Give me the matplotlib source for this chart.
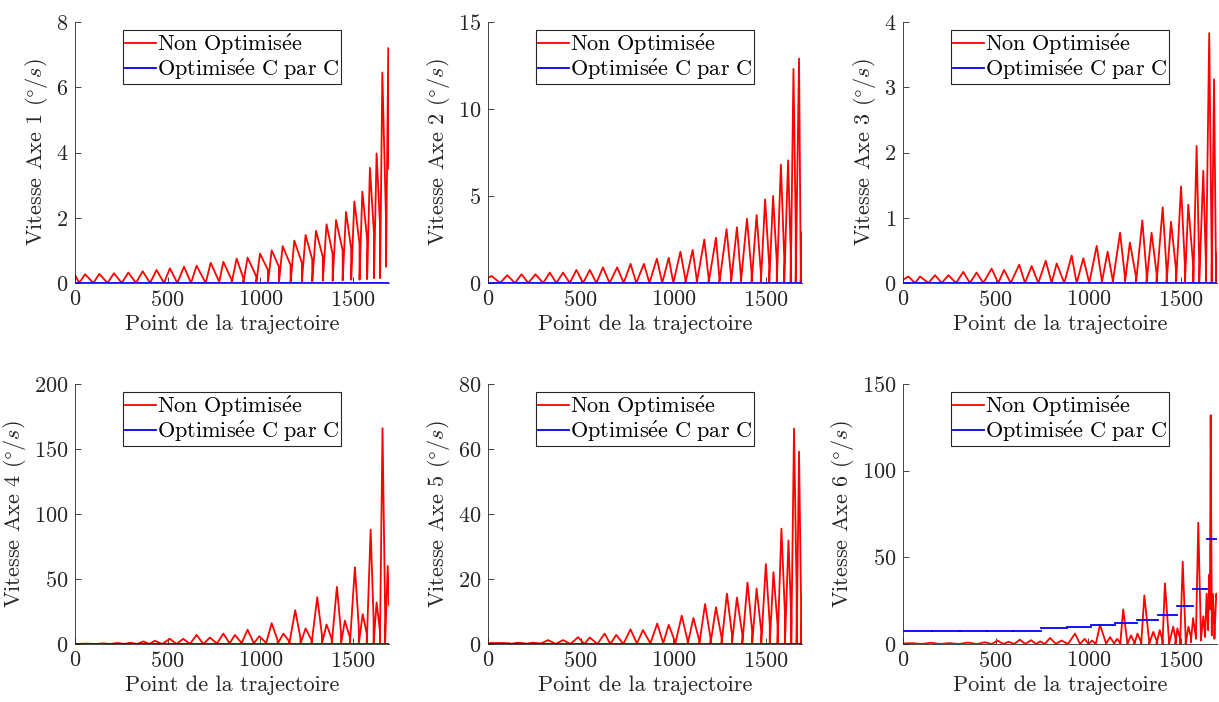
import matplotlib
matplotlib.use("Agg")
import matplotlib.pyplot as plt

plt.rcParams['font.family'] = ['cmr10', 'DejaVu Serif']
plt.rcParams['mathtext.fontset'] = 'cm'
plt.rcParams['axes.formatter.use_mathtext'] = True
plt.rcParams['axes.unicode_minus'] = False

# ---- data (x = point index, y = speed in deg/s) ----
# each curve is a chain of arches: trough x/y, peak x/y, tail y (value just before next trough)
ax1_tx = [0, 23, 99, 176, 252, 329, 405, 480, 552, 626, 705, 777, 845, 908, 978, 1041, 1100,
          1163, 1224, 1280, 1337, 1390, 1444, 1490, 1535, 1576, 1613, 1646, 1678, 1694]
ax1_ty = [0.25, 0, 0, 0, 0, 0, 0, 0, 0, 0, 0, 0, 0, 0, 0, 0, 0, 0, 0.05, 0.05, 0.07, 0.07,
          0.08, 0.1, 0.1, 0.12, 0.15, 0.15, 0.5, 3.5]
ax1_px = [0, 54, 131, 210, 288, 365, 440, 512, 588, 656, 732, 800, 872, 931, 998, 1061, 1120,
          1183, 1244, 1300, 1357, 1408, 1462, 1507, 1550, 1591, 1627, 1658, 1690]
ax1_py = [0.25, 0.27, 0.28, 0.30, 0.32, 0.36, 0.40, 0.45, 0.50, 0.53, 0.62, 0.65, 0.75, 0.78,
          0.90, 1.0, 1.13, 1.3, 1.47, 1.6, 1.8, 1.93, 2.18, 2.5, 2.8, 3.53, 3.97, 6.45, 7.2]
ax1_tail = [0, 0, 0, 0, 0, 0, 0, 0, 0, 0, 0.05, 0.1, 0.15, 0.2, 0.4, 0.5, 0.55, 0.62, 0.72,
            0.8, 0.88, 1.0, 1.05, 1.2, 1.35, 1.5, 1.7, 1.9, 3.5]

ax2_tx = [0, 65, 145, 217, 298, 369, 441, 513, 585, 656, 732, 800, 871, 940, 1000, 1065, 1126,
          1190, 1248, 1311, 1364, 1422, 1472, 1517, 1558, 1598, 1633, 1660, 1687, 1694]
ax2_ty = [0.3] + [0] * 28 + [2.9]
ax2_px = [20, 104, 181, 256, 333, 405, 477, 549, 620, 697, 769, 841, 911, 975, 1038, 1104, 1167,
          1230, 1287, 1343, 1397, 1449, 1495, 1538, 1580, 1619, 1648, 1678, 1694]
ax2_py = [0.4, 0.45, 0.5, 0.5, 0.6, 0.6, 0.75, 0.75, 0.9, 0.9, 1.1, 1.1, 1.4, 1.45, 1.8, 1.9,
          2.5, 2.6, 3.1, 3.2, 3.7, 3.9, 4.8, 5.0, 6.8, 7.05, 12.3, 12.9, 2.9]
ax2_tail = [0] * 14 + [0.2, 0.2, 0.3, 0.3, 0.4, 0.4, 0.6, 0.6, 1.0, 1.2, 1.5, 1.8, 3.3, 1.0, 2.9]

ax3_tx = [0, 65, 137, 209, 286, 361, 433, 514, 581, 658, 730, 802, 870, 937, 1005, 1072, 1131,
          1197, 1257, 1314, 1368, 1422, 1473, 1521, 1566, 1598, 1634, 1665, 1688, 1694]
ax3_ty = [0.05] + [0] * 28 + [0.45]
ax3_px = [29, 92, 173, 245, 325, 397, 478, 545, 627, 694, 770, 829, 910, 973, 1045, 1104, 1171,
          1224, 1291, 1341, 1401, 1446, 1500, 1539, 1584, 1620, 1652, 1678, 1691]
ax3_py = [0.1, 0.1, 0.12, 0.12, 0.17, 0.16, 0.22, 0.2, 0.28, 0.26, 0.34, 0.3, 0.42, 0.38, 0.57,
          0.48, 0.77, 0.62, 0.96, 0.77, 1.16, 0.94, 1.48, 1.2, 2.1, 1.72, 3.83, 3.12, 0.45]
ax3_tail = [0] * 14 + [0.05, 0.05, 0.1, 0.1, 0.15, 0.15, 0.2, 0.2, 0.25, 0.25, 0.3, 0.3, 0.5,
                       0.3, 0.45]

ax4_tx = [0, 120, 190, 265, 335, 400, 470, 548, 620, 692, 764, 832, 897, 962, 1030, 1093, 1156,
          1216, 1276, 1332, 1385, 1435, 1483, 1531, 1574, 1611, 1645, 1673, 1694]
ax4_ty = [0] * 28 + [30]
ax4_px = [60, 150, 230, 300, 369, 431, 512, 584, 656, 728, 800, 863, 931, 994, 1061, 1124, 1188,
          1244, 1307, 1357, 1413, 1456, 1510, 1552, 1595, 1627, 1659, 1687]
ax4_py = [0.3, 0.5, 0.8, 1.0, 2, 2.5, 4, 4, 7, 5, 8, 7, 11, 6, 16, 8, 26, 12, 36, 15, 44, 18,
          59, 23, 88, 32, 166, 60]
ax4_tail = [0, 0, 0, 0, 0, 0, 0, 0, 0, 0.5, 1, 1, 1.5, 1, 3, 2, 5, 3, 7, 4, 9, 5, 13, 8, 18,
            10, 25, 30]

ax5_tx = [0, 120, 200, 280, 365, 445, 520, 590, 660, 730, 802, 875, 944, 1010, 1077, 1140, 1200,
          1260, 1316, 1372, 1425, 1474, 1520, 1562, 1602, 1636, 1665, 1690, 1694]
ax5_ty = [0.3] + [0] * 27 + [14.5]
ax5_px = [80, 160, 240, 325, 405, 486, 549, 629, 692, 769, 836, 913, 975, 1045, 1108, 1171, 1230,
          1289, 1343, 1400, 1449, 1499, 1540, 1583, 1621, 1651, 1678, 1694]
ax5_py = [0.3, 0.4, 0.4, 1.2, 1.2, 2.1, 2.0, 3.2, 2.8, 4.5, 4.3, 6.3, 5.9, 8.7, 8.0, 12.3, 11.3,
          15.5, 14.3, 18.9, 17.1, 24.6, 22.1, 35.5, 31.9, 66.3, 59.2, 14.5]
ax5_tail = [0.2, 0.2, 0.2, 0, 0, 0, 0, 0, 0, 0.3, 0.3, 0.5, 0.5, 1, 1, 2, 2, 3, 3, 4, 4, 6, 6,
            9, 8, 16, 8, 14.5]

ax6_tx = [0, 100, 200, 300, 400, 480, 540, 600, 660, 720, 765, 825, 890, 955, 1000, 1040, 1095,
          1138, 1172, 1210, 1248, 1285, 1328, 1368, 1400, 1435, 1470, 1495, 1525, 1553, 1580,
          1607, 1630, 1646, 1656, 1666, 1680, 1694]
ax6_ty = [0.3] + [0] * 28 + [1, 3, 2, 5, 10, 28, 5, 3, 26]
ax6_px = [50, 150, 250, 350, 440, 510, 570, 630, 690, 740, 793, 855, 928, 980, 1020, 1063, 1117,
          1155, 1188, 1230, 1265, 1302, 1350, 1385, 1413, 1458, 1480, 1509, 1540, 1565, 1593,
          1620, 1638, 1652, 1660, 1672, 1690]
ax6_py = [0.5, 0.7, 0.5, 0.8, 1, 2, 1.3, 2.5, 2.2, 1.5, 3.5, 2, 6, 3, 2, 11, 4, 3, 20, 5, 6, 28,
          7, 8, 35, 10, 9, 47.5, 10, 15, 70, 16, 29, 40, 132, 29, 29]
ax6_tail = [0] * 15 + [0.5, 0.5, 0.5, 1, 1, 1, 1.5, 2, 2, 2, 3, 3, 3, 4, 4, 5, 4, 8, 20, 10, 6, 26]

# optimised curves: zero for axes 1-5, piecewise constant for axis 6
opt_x = [0, 1694]
opt_y = [0, 0]
ax6_opt_edges = [0, 155, 308, 452, 595, 744, 883, 1012, 1143, 1264, 1377, 1476, 1566, 1638, 1694]
ax6_opt_vals = [7.7, 7.7, 7.7, 7.7, 7.7, 9.0, 10.0, 10.8, 11.9, 14.1, 17.0, 22.0, 31.8, 60.7]

y_limits = [8, 15, 4, 200, 80, 150]
y_ticks = [[0, 2, 4, 6, 8], [0, 5, 10, 15], [0, 1, 2, 3, 4],
           [0, 50, 100, 150, 200], [0, 20, 40, 60, 80], [0, 50, 100, 150]]
x_ticks = [0, 500, 1000, 1500]


def arch_path(tx, ty, px, py, tail):
    xs, ys = [], []
    for i in range(len(px)):
        xs += [tx[i], px[i], tx[i + 1]]
        ys += [ty[i], py[i], tail[i]]
    xs.append(tx[-1])
    ys.append(ty[-1])
    return xs, ys


def step_segments(edges, vals):
    xs, ys = [], []
    for i in range(len(vals)):
        xs += [edges[i], edges[i + 1], float('nan')]
        ys += [vals[i], vals[i], float('nan')]
    return xs, ys


red_data = [
    (ax1_tx, ax1_ty, ax1_px, ax1_py, ax1_tail),
    (ax2_tx, ax2_ty, ax2_px, ax2_py, ax2_tail),
    (ax3_tx, ax3_ty, ax3_px, ax3_py, ax3_tail),
    (ax4_tx, ax4_ty, ax4_px, ax4_py, ax4_tail),
    (ax5_tx, ax5_ty, ax5_px, ax5_py, ax5_tail),
    (ax6_tx, ax6_ty, ax6_px, ax6_py, ax6_tail),
]

fig = plt.figure(figsize=(12.19, 7.02), dpi=100)

W, H = 1219.0, 702.0
lefts = [75, 488, 903]
width = 314
rows = [(22, 283), (384, 644)]
dark = '#262626'
fs = 16

for k in range(6):
    r, c = divmod(k, 3)
    top, bottom = rows[r]
    ax = fig.add_axes([lefts[c] / W, 1 - bottom / H, width / W, (bottom - top) / H])

    xs, ys = arch_path(*red_data[k])
    ax.plot(xs, ys, color='#ff0000', lw=1.3, label=r'$\mathrm{Non\ Optimis\acute{e}e}$')
    if k == 5:
        bx, by = step_segments(ax6_opt_edges, ax6_opt_vals)
    else:
        bx, by = opt_x, opt_y
    ax.plot(bx, by, color='#0000ff', lw=1.3, label=r'$\mathrm{Optimis\acute{e}e\ C\ par\ C}$')

    ax.set_xlim(0, 1694)
    ax.set_ylim(0, y_limits[k])
    ax.set_xticks(x_ticks)
    ax.set_yticks(y_ticks[k])
    ax.tick_params(direction='in', length=4, width=0.6, colors=dark, labelsize=fs, pad=5)
    for side in ['top', 'right']:
        ax.spines[side].set_visible(False)
    for side in ['left', 'bottom']:
        ax.spines[side].set_color(dark)
        ax.spines[side].set_linewidth(0.6)

    ax.set_xlabel('Point de la trajectoire', fontsize=fs, color=dark, labelpad=3)
    ax.set_ylabel(r'Vitesse Axe %d $(\degree/s)$' % (k + 1), fontsize=fs, color=dark,
                  labelpad=4)

    leg = ax.legend(loc='upper center', fontsize=fs, fancybox=False, framealpha=1,
                    edgecolor=dark, handlelength=1.4, handletextpad=0.05, borderpad=0.1,
                    labelspacing=0.0, borderaxespad=0.35)
    leg.get_frame().set_linewidth(0.8)

fig.savefig('out.png', dpi=100)
